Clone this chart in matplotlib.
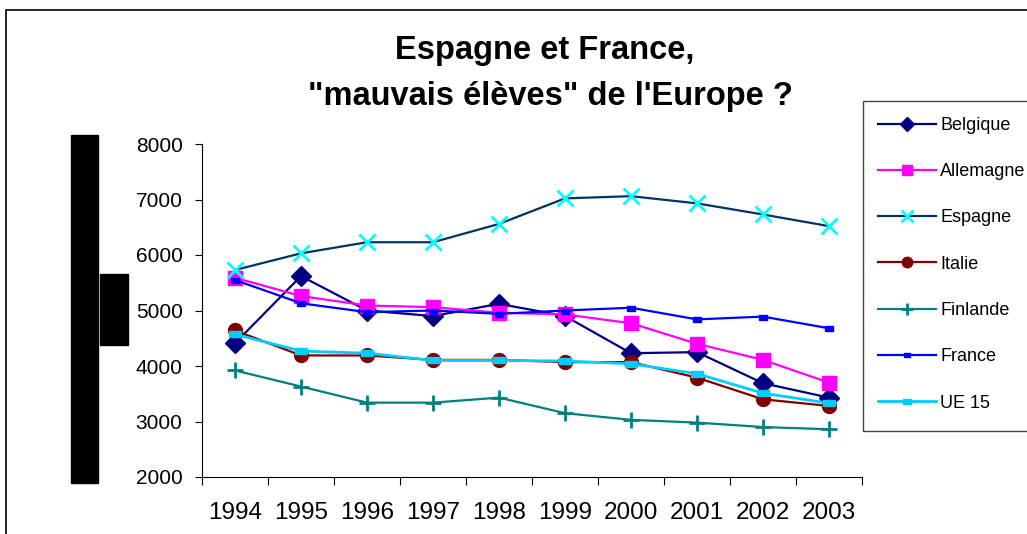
import numpy as np
import matplotlib
matplotlib.use("Agg")
import matplotlib.pyplot as plt
from matplotlib.patches import Rectangle

plt.rcParams["font.family"] = ["Liberation Sans", "DejaVu Sans"]

years = ["1994", "1995", "1996", "1997", "1998", "1999", "2000", "2001", "2002", "2003"]

belgique = [4410, 5620, 5000, 4900, 5120, 4900, 4230, 4250, 3690, 3430]
allemagne = [5590, 5260, 5090, 5060, 4960, 4930, 4770, 4400, 4110, 3700]
espagne = [5730, 6030, 6230, 6230, 6560, 7020, 7060, 6930, 6730, 6520]
italie = [4640, 4190, 4190, 4110, 4110, 4070, 4070, 3790, 3400, 3280]
finlande = [3920, 3630, 3340, 3340, 3430, 3150, 3030, 2980, 2900, 2860]
france = [5550, 5130, 4970, 5000, 4940, 5000, 5050, 4840, 4890, 4680]
ue15 = [4570, 4270, 4230, 4100, 4100, 4090, 4040, 3860, 3510, 3330]

W, H = 1027, 534
fig = plt.figure(figsize=(W / 100, H / 100), dpi=100)
ax = fig.add_axes([202 / W, 1 - 477 / H, 660 / W, 333 / H])

x = np.arange(len(years))
dash = [(-1, -0.6), (1, -0.6), (1, 0.6), (-1, 0.6), (-1, -0.6)]

ax.plot(x, belgique, color="#000080", lw=1.6, marker="D", ms=10, label="Belgique")
ax.plot(x, allemagne, color="#FF00FF", lw=1.6, marker="s", ms=10, label="Allemagne")
ax.plot(x, espagne, color="#003366", lw=1.6, marker="x", ms=11, mew=2,
        mec="#00FFFF", label="Espagne")
ax.plot(x, italie, color="#800000", lw=1.6, marker="o", ms=10, label="Italie")
ax.plot(x, finlande, color="#008080", lw=1.6, marker="+", ms=11, mew=2, label="Finlande")
ax.plot(x, france, color="#0000FF", lw=1.6, marker=dash, ms=6, label="France")
ax.plot(x, ue15, color="#00CCFF", lw=2.0, marker=dash, ms=8, label="UE 15")

ax.set_xlim(-0.5, 9.5)
ax.set_ylim(2000, 8000)
ax.set_yticks(range(2000, 8001, 1000))
ax.tick_params(axis="y", labelsize=15, length=5, pad=9)

ax.set_xticks(np.arange(-0.5, 10, 1))
ax.set_xticklabels([])
ax.set_xticks(x, minor=True)
ax.set_xticklabels(years, minor=True)
ax.tick_params(axis="x", which="major", length=6)
ax.tick_params(axis="x", which="minor", length=0, labelsize=17.5, pad=18)

for s in ["top", "right"]:
    ax.spines[s].set_visible(False)

fig.text(545 / W, 1 - 50 / H, "Espagne et France,", ha="center", va="center",
         fontsize=23.5, fontweight="bold")
fig.text(550 / W, 1 - 96 / H, "\"mauvais élèves\" de l'Europe ?", ha="center",
         va="center", fontsize=23.5, fontweight="bold")

# outer chart border
fig.patches.append(Rectangle((6 / W, -0.1), 1.2, 1 - 10 / H + 0.1, transform=fig.transFigure,
                             fill=False, lw=1.2, ec="black"))
# black boxes on the left
fig.patches.append(Rectangle((71 / W, 1 - 483 / H), 27 / W, 348 / H,
                             transform=fig.transFigure, color="black"))
fig.patches.append(Rectangle((100 / W, 1 - 345 / H), 28 / W, 71 / H,
                             transform=fig.transFigure, color="black"))
# legend frame
fig.patches.append(Rectangle((863 / W, 1 - 431 / H), 0.3, 330 / H,
                             transform=fig.transFigure, fill=False, lw=1, ec="#444444"))

fig.legend(loc="upper left", bbox_to_anchor=(878 / W, 1 - 117 / H), frameon=False,
           fontsize=13, handlelength=3.2, handletextpad=0.25, labelspacing=1.62,
           borderpad=0, borderaxespad=0, markerscale=0.75)

fig.savefig("out.png", dpi=100)
